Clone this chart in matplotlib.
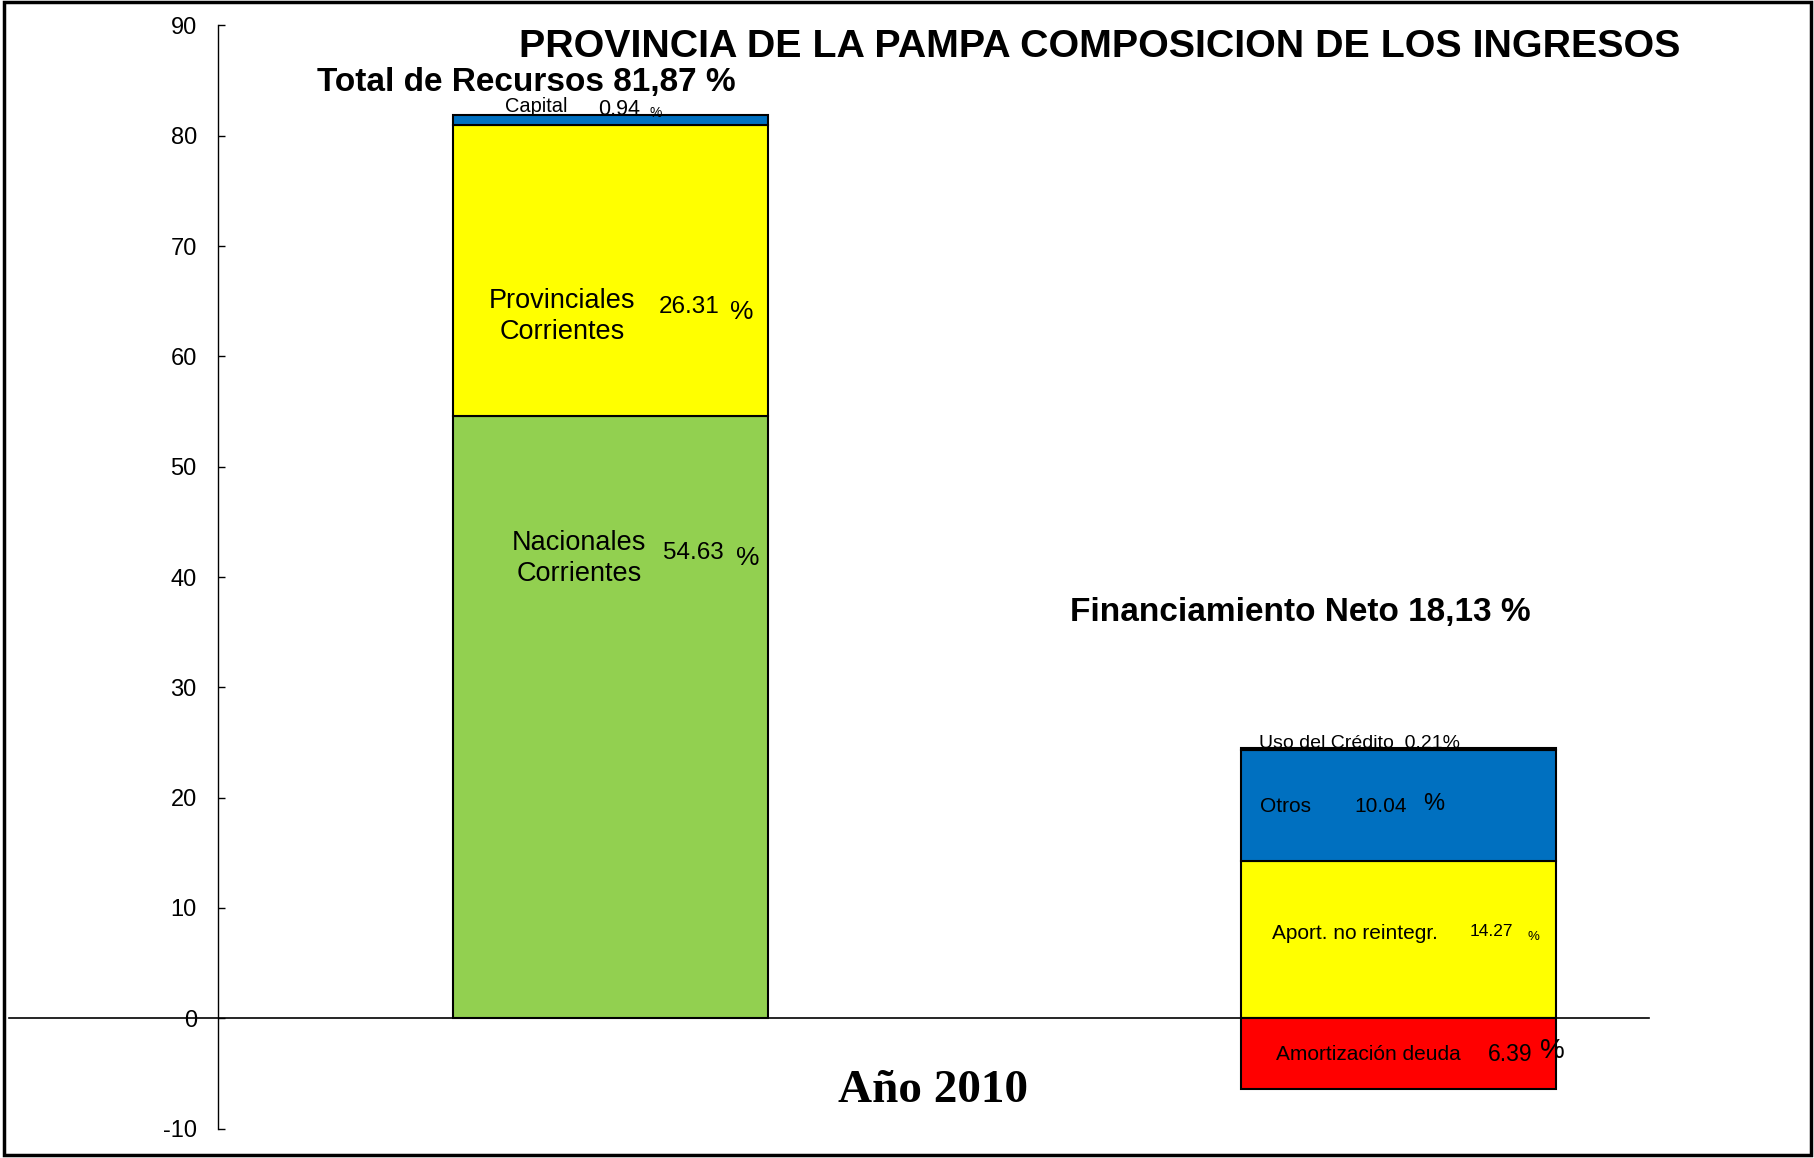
import matplotlib
matplotlib.use("Agg")
import matplotlib.pyplot as plt
from matplotlib.patches import Rectangle

# datos (% del total)
recursos_labels = ["Nacionales\nCorrientes", "Provinciales\nCorrientes", "Capital"]
recursos_values = [54.63, 26.31, 0.94]
financ_labels = ["Aport. no reintegr.", "Otros", "Uso del Crédito"]
financ_values = [14.27, 10.04, 0.21]
amort_label = "Amortización deuda"
amort_value = -6.39
total_recursos = "81,87"
total_financ = "18,13"
yticks = list(range(-10, 91, 10))

GREEN = "#92D050"
YELLOW = "#FFFF00"
BLUE = "#0070C0"
RED = "#FF0000"

plt.rcParams["font.family"] = ["Liberation Sans", "DejaVu Sans"]
plt.rcParams["axes.unicode_minus"] = False

fig = plt.figure(figsize=(18.15, 11.58), dpi=100)
ax = fig.add_axes([0.1199, 0.0254, 0.7886, 0.9526])

x1, x2, w = 0.2746, 0.8248, 0.22

# barra de recursos
colors1 = [GREEN, YELLOW, BLUE]
bottom = 0
for v, c in zip(recursos_values, colors1):
    ax.bar(x1, v, w, bottom=bottom, color=c, edgecolor="black", linewidth=1.5, zorder=2)
    bottom += v

# barra de financiamiento
colors2 = [YELLOW, BLUE, BLUE]
bottom = 0
for v, c in zip(financ_values, colors2):
    ax.bar(x2, v, w, bottom=bottom, color=c, edgecolor="black", linewidth=1.5, zorder=2)
    bottom += v
ax.bar(x2, amort_value, w, bottom=0, color=RED, edgecolor="black", linewidth=1.5, zorder=2)

ax.set_xlim(0, 1)
ax.set_ylim(-10, 90)
ax.set_yticks(yticks)
ax.set_xticks([])
for s in ["top", "right", "bottom"]:
    ax.spines[s].set_visible(False)
ax.spines["left"].set_linewidth(1.0)
ax.tick_params(axis="y", direction="in", length=5, width=1, pad=15, labelsize=17)
ax.axhline(0, xmin=-0.1457, xmax=1.0, color="black", linewidth=1.2, clip_on=False, zorder=3)

# etiquetas recursos
nac, prov, cap = recursos_values
y_nac = nac * 0.77 - 0.35
ax.text(x1 - 0.022, y_nac, recursos_labels[0], ha="center", va="center", fontsize=19.5, linespacing=1.25)
ax.text(x1 + 0.058, y_nac + 0.45, f"{nac:.2f}", ha="center", va="center", fontsize=17.5)
ax.text(x1 + 0.0955, y_nac, "%", ha="center", va="center", fontsize=19)

y_prov = nac + prov * 0.35 - 0.25
ax.text(x1 - 0.034, y_prov, recursos_labels[1], ha="center", va="center", fontsize=19.5, linespacing=1.25)
ax.text(x1 + 0.055, y_prov + 0.85, f"{prov:.2f}", ha="center", va="center", fontsize=17.5)
ax.text(x1 + 0.0915, y_prov + 0.4, "%", ha="center", va="center", fontsize=19)

top1 = nac + prov + cap
ax.text(x1 - 0.052, top1 + 0.75, recursos_labels[2], ha="center", va="center", fontsize=14.4)
ax.text(x1 + 0.006, top1 + 0.5, f"{cap:.2f}", ha="center", va="center", fontsize=15.5)
ax.text(x1 + 0.0315, top1 + 0.2, "%", ha="center", va="center", fontsize=10)

# etiquetas financiamiento
apo, otr, uso = financ_values
ax.text(x2 - 0.03, apo * 0.55 - 0.2, financ_labels[0], ha="center", va="center", fontsize=15)
ax.text(x2 + 0.065, apo * 0.56 - 0.1, f"{apo:.2f}", ha="center", va="center", fontsize=12.5)
ax.text(x2 + 0.0945, apo * 0.53 - 0.2, "%", ha="center", va="center", fontsize=9.5)

ax.text(x2 - 0.079, apo + otr * 0.5 - 0.1, financ_labels[1], ha="center", va="center", fontsize=15)
ax.text(x2 - 0.012, apo + otr * 0.5 - 0.1, f"{otr:.2f}", ha="center", va="center", fontsize=15)
ax.text(x2 + 0.025, apo + otr * 0.51, "%", ha="center", va="center", fontsize=17)

top2 = apo + otr + uso
ax.text(x2 - 0.097, top2 + 0.35, f"{financ_labels[2]}  {uso:.2f}%", ha="left", va="center", fontsize=14)

ax.text(x2 - 0.021, amort_value * 0.46 - 0.3, amort_label, ha="center", va="center", fontsize=15)
ax.text(x2 + 0.078, amort_value * 0.46 - 0.3, f"{-amort_value:.2f}", ha="center", va="center", fontsize=16.5)
ax.text(x2 + 0.108, amort_value * 0.42 - 0.3, "%", ha="center", va="center", fontsize=20)

# titulos
fig.text(0.606, 0.9595, "PROVINCIA DE LA PAMPA COMPOSICION DE LOS INGRESOS",
         ha="center", va="center", fontsize=28.4, fontweight="bold")
fig.text(0.2901, 0.929, f"Total de Recursos {total_recursos} %", ha="center", va="center",
         fontsize=24, fontweight="bold")
fig.text(0.7166, 0.471, f"Financiamiento Neto {total_financ} %", ha="center", va="center",
         fontsize=24, fontweight="bold")
fig.text(0.514, 0.058, "Año 2010", ha="center", va="center", fontsize=34,
         fontweight="bold", family=["Liberation Serif", "DejaVu Serif"])

# marco
fig.patches.append(Rectangle((0.002, 0.003), 0.996, 0.995, transform=fig.transFigure,
                             fill=False, edgecolor="black", linewidth=2.5))

fig.savefig("out.png", dpi=100)
